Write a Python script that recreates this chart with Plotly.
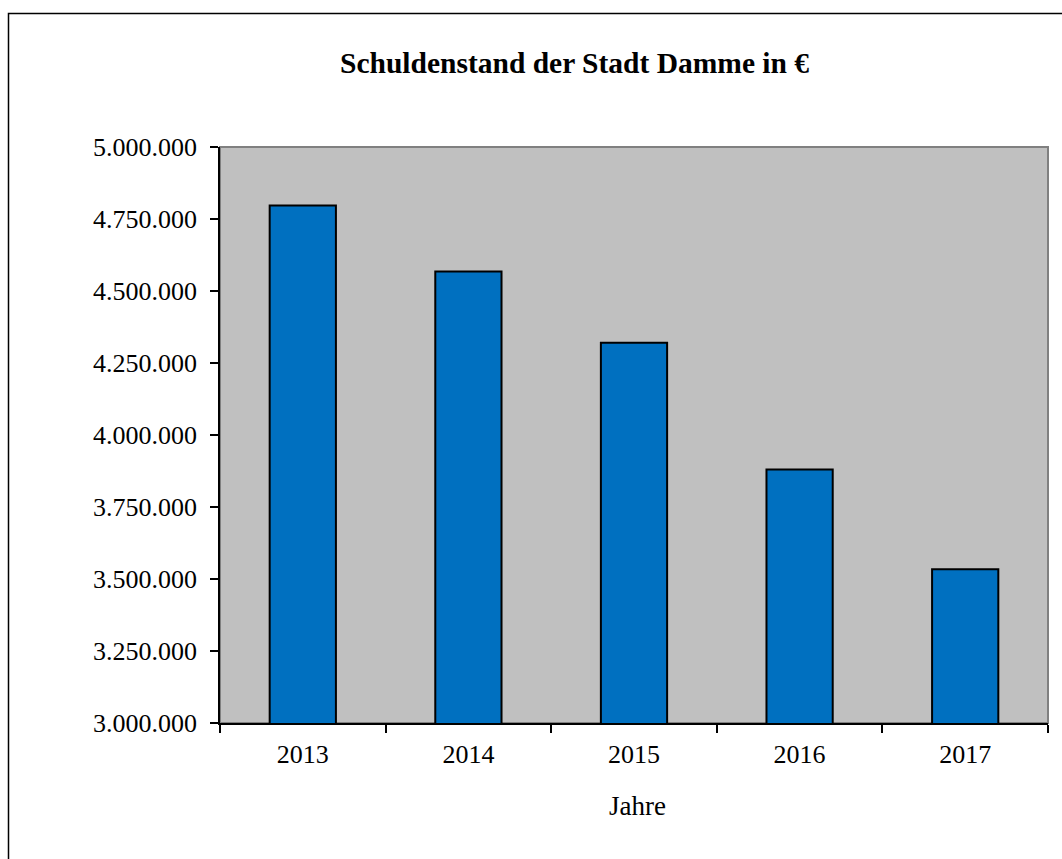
import plotly.graph_objects as go

years = ["2013", "2014", "2015", "2016", "2017"]
debt = [4797000, 4568000, 4320000, 3880000, 3534000]
y_ticks = [3000000, 3250000, 3500000, 3750000, 4000000, 4250000, 4500000, 4750000, 5000000]

OFF = 0  # page body margin removed via post_script
W, H = 1062 - 2 * OFF, 859 - 2 * OFF
L, R, T, B = 220 - OFF, 1048 - OFF, 147 - OFF, 723 - OFF

fig = go.Figure(go.Bar(
    x=years, y=debt,
    marker=dict(color="#0070C0", line=dict(color="black", width=2)),
    width=0.4,
))

pw = R - L
ph = B - T
def px_x(x):
    return (x - OFF - L) / pw
def px_y(y):
    return (B - (y - OFF)) / ph

fig.update_layout(
    width=W, height=H,
    margin=dict(l=L, r=W - R, t=T, b=H - B, autoexpand=False),
    paper_bgcolor="white",
    plot_bgcolor="#C0C0C0",
    separators=",.",
    showlegend=False,
    font=dict(family="Liberation Serif", size=26, color="black"),
    xaxis=dict(type="category", tickson="boundaries", ticks="outside", ticklen=8,
               tickcolor="black", tickwidth=1.5, showline=True, linecolor="black", linewidth=1.5,
               showgrid=False, ticklabelstandoff=7),
    yaxis=dict(range=[3000000, 5000000], tickvals=y_ticks, tickformat=",.0f",
               ticks="outside", ticklen=8, tickcolor="black", tickwidth=1.5,
               showline=True, linecolor="black", linewidth=1.5, showgrid=False,
               zeroline=False, ticklabelstandoff=8),
    annotations=[
        dict(text="<b>Schuldenstand der Stadt Damme in €</b>", xref="paper", yref="paper",
             x=px_x(574.5), y=px_y(63), xanchor="center", yanchor="middle", showarrow=False,
             font=dict(family="Liberation Serif", size=29.5, color="black")),
        dict(text="Jahre", xref="paper", yref="paper",
             x=px_x(637.5), y=px_y(806), xanchor="center", yanchor="middle", showarrow=False,
             font=dict(family="Liberation Serif", size=27, color="black")),
    ],
    shapes=[
        dict(type="rect", xref="paper", yref="paper", x0=0, x1=1, y0=0, y1=1,
             line=dict(color="#808080", width=2), layer="below"),
        dict(type="rect", xref="paper", yref="paper",
             x0=px_x(8.5), x1=px_x(1080), y0=px_y(880), y1=px_y(13.5),
             line=dict(color="black", width=1.5)),
    ],
)

fig.write_html(
    "out.html",
    config={"displayModeBar": False},
    post_script="document.body.style.margin='0';document.body.style.overflow='hidden';",
)
